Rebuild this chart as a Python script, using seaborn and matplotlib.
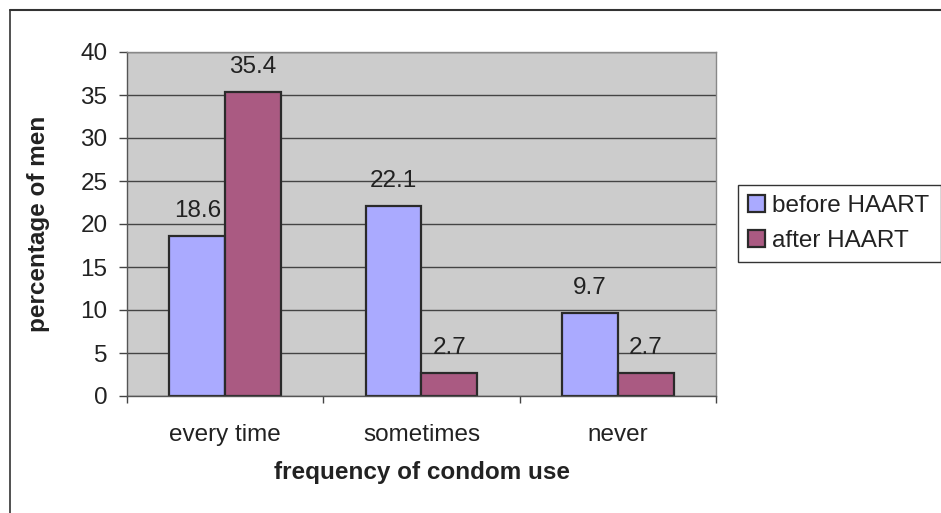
import matplotlib
matplotlib.use('Agg')
import matplotlib.pyplot as plt
import seaborn as sns
import pandas as pd
from matplotlib.patches import Patch
from matplotlib.lines import Line2D

# ---- data ----
categories = ['every time', 'sometimes', 'never']
series = ['before HAART', 'after HAART']
before_haart = [18.6, 22.1, 9.7]
after_haart = [35.4, 2.7, 2.7]
y_ticks = [0, 5, 10, 15, 20, 25, 30, 35, 40]
x_label = 'frequency of condom use'
y_label = 'percentage of men'

df = pd.DataFrame({
    'category': categories * 2,
    'series': [series[0]] * len(categories) + [series[1]] * len(categories),
    'value': before_haart + after_haart,
})

sns.set_theme(style='white')
plt.rcParams['font.family'] = ['Liberation Sans', 'DejaVu Sans']

W, H = 941, 513
fig = plt.figure(figsize=(W / 100, H / 100), dpi=100)
fig.patch.set_facecolor('white')
ax = fig.add_axes([127 / W, 1 - 396 / H, 589 / W, 344 / H])

palette = {series[0]: '#AAAAFF', series[1]: '#AA5A82'}
sns.barplot(data=df, x='category', y='value', hue='series', order=categories,
            hue_order=series, palette=palette, width=0.57, saturation=1,
            edgecolor='#2a2a2a', linewidth=1.6, ax=ax, legend=False)

txt = '#222222'
fs = 17.5
for cont in ax.containers:
    ax.bar_label(cont, fmt='%.1f', padding=10, fontsize=fs, color=txt)

ax.set_facecolor('#CCCCCC')
ax.set_xlim(-0.5, len(categories) - 0.5)
ax.set_ylim(0, 40)
ax.set_yticks(y_ticks)
ax.yaxis.grid(True, color='#444444', lw=1)
ax.xaxis.grid(False)
ax.set_axisbelow(True)

ax.tick_params(axis='y', which='major', direction='out', length=6, width=1,
               color='#444444', pad=8, labelsize=fs, labelcolor=txt, left=True)
ax.tick_params(axis='x', which='major', length=0, pad=20, labelsize=fs, labelcolor=txt)
ax.set_xticks([i - 0.5 for i in range(len(categories) + 1)], minor=True)
ax.tick_params(axis='x', which='minor', direction='out', length=5, width=1,
               color='#444444', bottom=True)

for s in ['top', 'right']:
    ax.spines[s].set_color('#888888')
    ax.spines[s].set_linewidth(1)
for s in ['left', 'bottom']:
    ax.spines[s].set_color('#555555')
    ax.spines[s].set_linewidth(1)

ax.set_xlabel(x_label, fontsize=fs, fontweight='bold', color=txt, labelpad=11)
ax.set_ylabel(y_label, fontsize=fs, fontweight='bold', color=txt, labelpad=22)

handles = [Patch(facecolor=palette[s], edgecolor='#2a2a2a', lw=1.6, label=s) for s in series]
leg = ax.legend(handles=handles, loc='upper left',
                bbox_to_anchor=(738 / W, 1 - 261 / H, 203 / W, 76 / H), mode='expand',
                bbox_transform=fig.transFigure, fontsize=fs, frameon=True, fancybox=False,
                edgecolor='#333333', framealpha=1, borderpad=0.4, labelspacing=0.55,
                handlelength=0.7, handleheight=0.7, handletextpad=0.28, borderaxespad=0)
leg.get_frame().set_linewidth(1)
for t in leg.get_texts():
    t.set_color(txt)

# outer chart-area frame (cut at right and bottom)
fig.add_artist(Line2D([10 / W, 1], [1 - 10 / H, 1 - 10 / H], transform=fig.transFigure,
                      color='#333333', lw=1.5))
fig.add_artist(Line2D([10 / W, 10 / W], [0, 1 - 10 / H], transform=fig.transFigure,
                      color='#333333', lw=1.2))

fig.savefig('out.png', dpi=100)
